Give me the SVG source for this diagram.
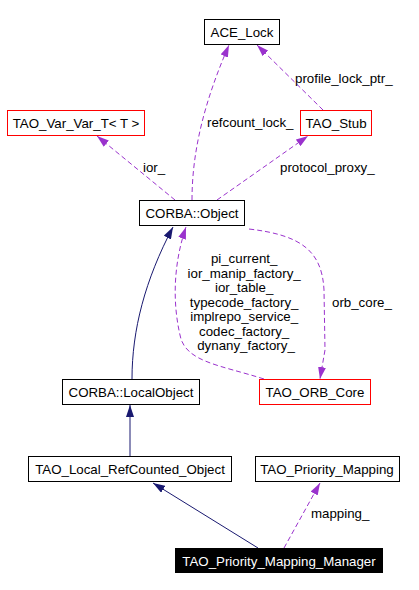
<svg xmlns="http://www.w3.org/2000/svg" width="419" height="590" viewBox="0 0 419 590">
<defs>
<style>
text{font-family:"Liberation Sans",Arial,sans-serif;font-size:13.3px;fill:#000}
.n{fill:#fff;stroke:#000;stroke-width:1}
.r{fill:#fff;stroke:#ff0000;stroke-width:1}
.b{fill:#000;stroke:#000}
.wt{fill:#fff}
.inh{fill:none;stroke:#191970;stroke-width:1}
.use{fill:none;stroke:#9a32cd;stroke-width:1;stroke-dasharray:5,3}
</style>
<marker id="ai" viewBox="0 0 12 8" refX="12" refY="4" markerWidth="12" markerHeight="8" markerUnits="userSpaceOnUse" orient="auto"><path d="M0,0 L12,4 L0,8 z" fill="#191970"/></marker>
<marker id="au" viewBox="0 0 12 8" refX="12" refY="4" markerWidth="12" markerHeight="8" markerUnits="userSpaceOnUse" orient="auto"><path d="M0,0 L12,4 L0,8 z" fill="#9a32cd"/></marker>
</defs>
<rect width="419" height="590" fill="#fff"/>
<g id="edges">
<path class="use" d="M192,200 C192,150 205,100 229,45" marker-end="url(#au)"/>
<text x="207" y="127">refcount_lock_</text>
<path class="use" d="M323,110 L257,45" marker-end="url(#au)"/>
<text x="295" y="83">profile_lock_ptr_</text>
<path class="use" d="M175,200 L97,136" marker-end="url(#au)"/>
<text x="143" y="172">ior_</text>
<path class="use" d="M217,200 L308,136" marker-end="url(#au)"/>
<text x="280" y="172">protocol_proxy_</text>
<path class="use" d="M249,229 C300,235 322,250 324,290 L325,350 L320,379" marker-end="url(#au)"/>
<text x="332" y="307">orb_core_</text>
<path class="use" d="M264,379 C220,365 185,362 180,335 C172,300 174,262 186,227" marker-end="url(#au)"/>
<text text-anchor="middle">
<tspan x="246" y="263">pi_current_</tspan>
<tspan x="246" y="278">ior_manip_factory_</tspan>
<tspan x="246" y="292">ior_table_</tspan>
<tspan x="246" y="307">typecode_factory_</tspan>
<tspan x="246" y="321">implrepo_service_</tspan>
<tspan x="246" y="336">codec_factory_</tspan>
<tspan x="246" y="350">dynany_factory_</tspan>
</text>
<path class="inh" d="M132,379 C132,330 145,280 173,227" marker-end="url(#ai)"/>
<path class="inh" d="M130,456 L130,405" marker-end="url(#ai)"/>
<path class="inh" d="M258,548 L153,483" marker-end="url(#ai)"/>
<path class="use" d="M284,548 L320,483" marker-end="url(#au)"/>
<text x="311" y="518">mapping_</text>
</g>
<g id="ACE_Lock"><rect class="n" x="204.5" y="19.5" width="75" height="25"/><text x="242" y="37" text-anchor="middle">ACE_Lock</text></g>
<g id="TAO_Var_Var_T"><rect class="r" x="7.5" y="110.5" width="137" height="25"/><text x="76" y="128" text-anchor="middle">TAO_Var_Var_T&lt; T &gt;</text></g>
<g id="TAO_Stub"><rect class="r" x="300.5" y="110.5" width="71" height="25"/><text x="336" y="128" text-anchor="middle">TAO_Stub</text></g>
<g id="CORBA_Object"><rect class="n" x="139.5" y="200.5" width="105" height="25"/><text x="192" y="218" text-anchor="middle">CORBA::Object</text></g>
<g id="CORBA_LocalObject"><rect class="n" x="62.5" y="379.5" width="137" height="25"/><text x="131" y="397" text-anchor="middle">CORBA::LocalObject</text></g>
<g id="TAO_ORB_Core"><rect class="r" x="259.5" y="379.5" width="111" height="25"/><text x="315" y="397" text-anchor="middle">TAO_ORB_Core</text></g>
<g id="TAO_Local_RefCounted_Object"><rect class="n" x="28.5" y="456.5" width="203" height="25"/><text x="130" y="474" text-anchor="middle">TAO_Local_RefCounted_Object</text></g>
<g id="TAO_Priority_Mapping"><rect class="n" x="255.5" y="456.5" width="144" height="25"/><text x="327" y="474" text-anchor="middle">TAO_Priority_Mapping</text></g>
<g id="TAO_Priority_Mapping_Manager"><rect class="b" x="175.5" y="548.5" width="207" height="24"/><text class="wt" x="279" y="566" text-anchor="middle">TAO_Priority_Mapping_Manager</text></g>
</svg>
